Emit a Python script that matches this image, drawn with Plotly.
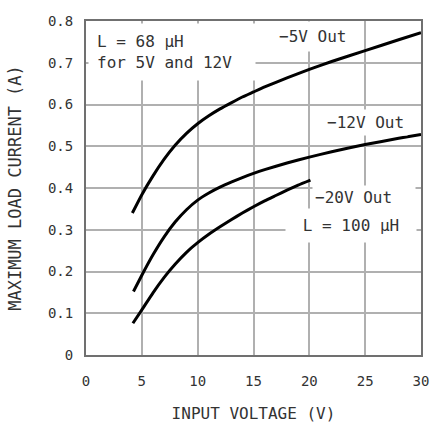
import plotly.graph_objects as go

# -5V Out (L = 68 uH)
v5_x = [4.15, 5, 6, 7, 8, 9, 10, 11, 12, 13, 14, 15, 16, 18, 20, 22, 25, 28, 30]
v5_y = [0.340, 0.384, 0.429, 0.469, 0.503, 0.531, 0.554, 0.573, 0.5895, 0.604, 0.618,
        0.630, 0.642, 0.664, 0.684, 0.703, 0.729, 0.755, 0.772]
# -12V Out (L = 68 uH)
v12_x = [4.25, 5, 6, 7, 8, 9, 10, 11, 12, 13, 14, 15, 16, 18, 20, 22, 25, 28, 30]
v12_y = [0.152, 0.191, 0.240, 0.283, 0.319, 0.348, 0.371, 0.388, 0.402, 0.414, 0.425,
         0.435, 0.444, 0.460, 0.474, 0.487, 0.504, 0.519, 0.528]
# -20V Out (L = 100 uH)
v20_x = [4.2, 5, 6, 7, 8, 9, 10, 11, 12, 13, 14, 15, 16, 17, 18, 19, 20.1]
v20_y = [0.076, 0.108, 0.149, 0.186, 0.218, 0.246, 0.269, 0.289, 0.307, 0.324, 0.340,
         0.355, 0.369, 0.382, 0.395, 0.407, 0.419]

x_ticks = [0, 5, 10, 15, 20, 25, 30]
y_ticks = [0, 0.1, 0.2, 0.3, 0.4, 0.5, 0.6, 0.7, 0.8]
y_tick_text = ["0", "0.1", "0.2", "0.3", "0.4", "0.5", "0.6", "0.7", "0.8"]

FONT = "DejaVu Sans Mono"
TXT = "#333333"

fig = go.Figure()
for xs, ys in [(v5_x, v5_y), (v12_x, v12_y), (v20_x, v20_y)]:
    fig.add_trace(go.Scatter(x=xs, y=ys, mode="lines",
                             line=dict(color="black", width=3, shape="spline", smoothing=0.5),
                             showlegend=False, hoverinfo="skip"))

ann_font = dict(family=FONT, size=16, color=TXT)
fig.add_annotation(x=0.15, y=0.7246, xanchor="left", yanchor="middle",
                   text="L = 68 μH<br>for 5V and 12V", align="left", width=150,
                   showarrow=False, font=ann_font, bgcolor="white", borderpad=8)
fig.add_annotation(x=20.3, y=0.762, text="−5V Out", showarrow=False,
                   font=ann_font, bgcolor="white", borderpad=5)
fig.add_annotation(x=25.03, y=0.556, text="−12V Out", showarrow=False,
                   font=ann_font, bgcolor="white", borderpad=3)
fig.add_annotation(x=20.25, y=0.378, xanchor="left", text="−20V Out", showarrow=False,
                   width=98, align="left", font=ann_font, bgcolor="white", borderpad=2)
fig.add_annotation(x=23.75, y=0.31, text="L = 100 μH", showarrow=False, width=116,
                   font=ann_font, bgcolor="white", borderpad=7)

fig.update_layout(
    width=432, height=423,
    margin=dict(l=86, r=11, t=21, b=68),
    paper_bgcolor="white", plot_bgcolor="white",
    font=dict(family=FONT, color=TXT),
)
fig.update_xaxes(range=[0, 30], tickvals=x_ticks, ticktext=[str(t) for t in x_ticks],
                 showgrid=True, gridcolor="#b0b0b0", gridwidth=2, automargin=False,
                 showline=True, linecolor="#707070", linewidth=2, mirror=True,
                 zeroline=False, ticks="", ticklabelstandoff=12,
                 tickfont=dict(family=FONT, size=14, color=TXT),
                 title=dict(text="INPUT VOLTAGE (V)", standoff=22,
                            font=dict(family=FONT, size=16, color=TXT)))
fig.update_yaxes(range=[0, 0.8], tickvals=y_ticks, ticktext=y_tick_text,
                 showgrid=True, gridcolor="#b0b0b0", gridwidth=2, automargin=False,
                 showline=True, linecolor="#707070", linewidth=2, mirror=True,
                 zeroline=False, ticks="", ticklabelstandoff=8,
                 tickfont=dict(family=FONT, size=14, color=TXT),
                 title=dict(text="MAXIMUM LOAD CURRENT (A)", standoff=22,
                            font=dict(family=FONT, size=17, color=TXT)))

fig.write_html("out.html")
